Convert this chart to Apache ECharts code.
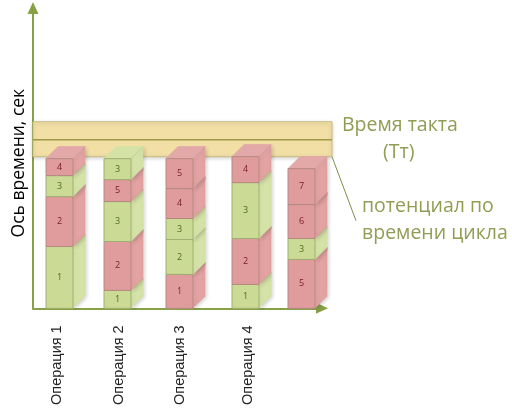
<!DOCTYPE html>
<html><head><meta charset="utf-8">
<style>html,body{margin:0;padding:0;background:#fff}#c{width:512px;height:408px}</style>
<script src="https://cdn.jsdelivr.net/npm/echarts@6/dist/echarts.min.js"></script>
</head><body><div id="c"></div>
<script>
const operations = ['Операция 1','Операция 2','Операция 3','Операция 4',''];
const barCentres = [59.5,117.5,179.5,245.5,301.5];
const labelCentres = [57,119,180,248];
const stackLabels = [[1,2,3,4],[1,2,3,5,3],[1,2,3,4,5],[1,2,3,4],[5,3,6,7]];
const stackValues = [[62,50,21,17],[18,49,40,22,21],[34,35,21,30,30],[24,46,56,26],[49,21,34,36]];
const stackKinds = [['g','r','g','r'],['g','r','g','r','g'],['r','g','g','r','r'],['g','r','g','r'],['r','g','r','r']];
const taktBand = [152,169,187];
const yAxisName = 'Ось времени, сек';

const AXIS='#88a046', W=27, D=12;
const C={g:{front:'#cbdb95',side:'#d6e3a8',top:'#d5e2a6',edge:'#9fae72',text:'#4f6a1c'},
         r:{front:'#e09c9c',side:'#e2a3a2',top:'#e3a9a8',edge:'#b48a80',text:'#7a2020'}};
const segs=[];
stackValues.forEach((vals,i)=>{let s=0;vals.forEach((v,j)=>{
  segs.push([barCentres[i],s,s+v,stackLabels[i][j],stackKinds[i][j],j===vals.length-1?1:0]);s+=v;});});

function poly(points,fill,stroke,extra){return Object.assign({type:'polygon',shape:{points},
  style:{fill,stroke,lineWidth:1}},extra||{});}
function renderSeg(params,api){
  const x=api.value(0),c=C[stackKinds.flat()[params.dataIndex]];
  const a=api.coord([x,api.value(1)]),b=api.coord([x,api.value(2)]);
  const l=Math.round(a[0]-W/2),r=l+W,bot=a[1],top=b[1];
  const ch=[];
  ch.push(poly([[r,bot],[r+D,bot-D],[r+D,top-D],[r,top]],c.side,c.edge,{style:{fill:c.side,stroke:c.side,lineWidth:.5,shadowBlur:4,shadowColor:'rgba(0,0,0,.22)',shadowOffsetX:1,shadowOffsetY:1}}));
  if(api.value(5)) ch.push(poly([[l,top],[l+D,top-D],[r+D,top-D],[r,top]],c.top,c.top));
  else ch.push(poly([[r,top],[r+D,top-D],[r+D,top-D+3],[r,top+3]],c.side,c.side));
  ch.push(poly([[l,bot],[r,bot],[r,top],[l,top]],c.front,c.edge));
  ch.push({type:'line',shape:{x1:r,y1:top,x2:r+D,y2:top-D},style:{stroke:c.edge,lineWidth:.6,opacity:.6}});
  ch.push({type:'text',x:(l+r)/2,y:(top+bot)/2,style:{text:String(api.value(3)),align:'center',verticalAlign:'middle',fill:c.text,font:'9px "Open Sans"'}});
  return {type:'group',children:ch};
}
function renderBand(params,api){
  const lo=api.coord([33,api.value(0)]),mid=api.coord([33,api.value(1)]),hi=api.coord([332,api.value(2)]);
  const l=lo[0],r=hi[0];
  return {type:'group',children:[
    {type:'rect',shape:{x:l,y:hi[1],width:r-l,height:lo[1]-hi[1]},style:{fill:'#f1dfa6',stroke:'#c9bd83',lineWidth:1,shadowBlur:4,shadowColor:'rgba(0,0,0,.18)',shadowOffsetY:1}},
    {type:'line',shape:{x1:l,y1:mid[1],x2:r,y2:mid[1]},style:{stroke:'#9c9a45',lineWidth:1.5}},
    {type:'line',shape:{x1:r,y1:lo[1],x2:r+24,y2:lo[1]+64},style:{stroke:'#7f8f4c',lineWidth:1}}
  ]};
}
const chart=echarts.init(document.getElementById('c'),null,{renderer:'canvas'});
const txt=(x,y,t)=>({type:'text',left:x,top:y,style:{text:t,fill:'#8f9d55',font:'19.5px "Open Sans"'}});
chart.setOption({
  animation:false,
  grid:{left:33,right:190,top:8,bottom:99,containLabel:false},
  xAxis:{type:'value',min:33,max:322,splitLine:{show:false},
    axisLine:{onZero:false,lineStyle:{color:AXIS,width:2},symbol:['none','triangle'],symbolSize:[11,12]},
    axisTick:{show:false},
    axisLabel:{show:true,customValues:labelCentres,rotate:90,margin:17,color:'#222',fontSize:14.5,fontFamily:'Liberation Sans',
      formatter:v=>operations[labelCentres.indexOf(v)]||''}},
  yAxis:{type:'value',min:0,max:301,splitLine:{show:false},axisTick:{show:false},axisLabel:{show:false},
    axisLine:{onZero:false,lineStyle:{color:AXIS,width:2},symbol:['none','triangle'],symbolSize:[11,12]},
    name:yAxisName,nameLocation:'middle',nameGap:11,nameRotate:90,
    nameTextStyle:{color:'#000',fontSize:17.5,fontFamily:'Open Sans',padding:[0,10,-6,0]}},
  graphic:[txt(342,115,'Время такта'),txt(383,142,'(Тт)'),txt(362,196,'потенциал по'),txt(362,223,'времени цикла')],
  series:[
    {type:'custom',renderItem:renderBand,data:[taktBand],z:1,clip:false,silent:true,encode:{x:-1,y:[0,2]}},
    {type:'custom',renderItem:renderSeg,data:segs,z:2,clip:false,silent:true,encode:{x:0,y:[1,2]},
     dimensions:['x','from','to','label','kind','last']}
  ]
});
</script></body></html>
